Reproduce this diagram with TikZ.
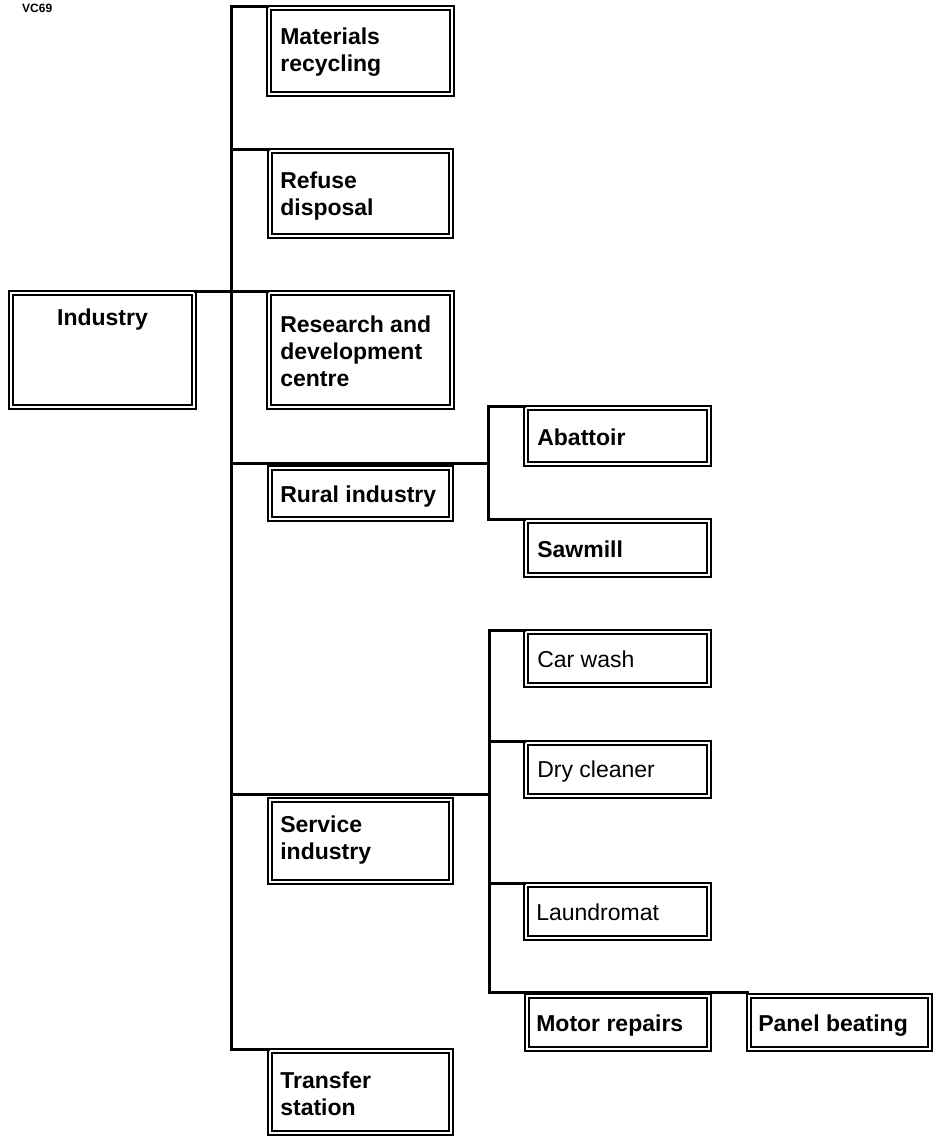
\documentclass[tikz,border=0pt]{standalone}
\usepackage{fontspec}
\setmainfont{Liberation Sans}
\usetikzlibrary{calc}
\begin{document}
\begin{tikzpicture}[x=1pt,y=-1pt,
  box/.style={draw, line width=2.2pt, double, double distance=1.8pt, rectangle, inner sep=0pt, outer sep=1.5pt, anchor=north west},
  conn/.style={line width=3.5pt, line cap=rect, line join=miter},
  lbl/.style={anchor=base west, inner sep=0pt, font=\fontsize{23}{27}\selectfont\bfseries},
  lblr/.style={anchor=base west, inner sep=0pt, font=\fontsize{23}{27}\selectfont}
]
\useasboundingbox (0,0) rectangle (935,1137);
\node[anchor=base west, inner sep=0pt, font=\fontsize{12}{14}\selectfont\bfseries] (vc) at (22,13) {VC69};

% boxes (anchor = outer edge + 1.6; border centre line = outer edge + 3.1)
\node[box, minimum width=182.8pt, minimum height=85.8pt] (mat) at (267.6,6.6) {};
\node[box, minimum width=180.8pt, minimum height=84.8pt] (ref) at (268.6,149.6) {};
\node[box, minimum width=182.8pt, minimum height=113.8pt] (ind) at (9.6,291.6) {};
\node[box, minimum width=182.8pt, minimum height=113.8pt] (res) at (267.6,291.6) {};
\node[box, minimum width=180.8pt, minimum height=50.8pt] (rur) at (268.6,466.6) {};
\node[box, minimum width=182.8pt, minimum height=55.8pt] (aba) at (524.6,406.6) {};
\node[box, minimum width=182.8pt, minimum height=53.8pt] (saw) at (524.6,519.6) {};
\node[box, minimum width=182.8pt, minimum height=52.8pt] (car) at (524.6,630.6) {};
\node[box, minimum width=182.8pt, minimum height=52.8pt] (dry) at (524.6,741.6) {};
\node[box, minimum width=180.8pt, minimum height=81.8pt] (ser) at (268.6,798.6) {};
\node[box, minimum width=182.8pt, minimum height=52.8pt] (lau) at (524.6,883.6) {};
\node[box, minimum width=181.8pt, minimum height=52.8pt] (mot) at (525.6,994.6) {};
\node[box, minimum width=180.8pt, minimum height=52.8pt] (pan) at (747.6,994.6) {};
\node[box, minimum width=180.8pt, minimum height=81.8pt] (tra) at (268.6,1049.6) {};

% labels
\node[lbl] at ($(mat.north west)+(12.5,38)$) {\parbox[t]{170pt}{Materials\\recycling}};
\node[lbl] at ($(ref.north west)+(11.5,38.5)$) {\parbox[t]{170pt}{Refuse\\disposal}};
\node[lbl, anchor=base] at ($(ind.north)+(0,33.5)$) {Industry};
\node[lbl] at ($(res.north west)+(12.5,40.5)$) {\parbox[t]{178pt}{Research and\\development\\centre}};
\node[lbl] at ($(rur.north west)+(11.5,35.5)$) {Rural industry};
\node[lbl] at ($(aba.north west)+(12.5,38.5)$) {Abattoir};
\node[lbl] at ($(saw.north west)+(12.5,37.5)$) {Sawmill};
\node[lblr] at ($(car.north west)+(12.5,36.5)$) {Car wash};
\node[lblr] at ($(dry.north west)+(12.5,35.5)$) {Dry cleaner};
\node[lbl] at ($(ser.north west)+(11.5,33.5)$) {\parbox[t]{170pt}{Service\\industry}};
\node[lblr] at ($(lau.north west)+(11.5,36.5)$) {Laundromat};
\node[lbl] at ($(mot.north west)+(10.5,36.5)$) {Motor repairs};
\node[lbl] at ($(pan.north west)+(10.5,36.5)$) {Panel beating};
\node[lbl] at ($(tra.north west)+(11.5,38.5)$) {\parbox[t]{170pt}{Transfer\\station}};

% trunk
\coordinate (trunk) at (231.3,0);
\draw[conn] (mat.north west) -- (mat.north west -| trunk) -- (tra.north west -| trunk) -- (tra.north west);
\draw[conn] (ref.north west) -- (ref.north west -| trunk);
\draw[conn] (ind.north east) -- (res.north west);

% rural subtree
\coordinate (sub1) at (488.7,0);
\coordinate (rurj) at (231.3,463.5);
\draw[conn] (rurj) -- (rurj -| sub1);
\draw[conn] (aba.north west) -- (aba.north west -| sub1) -- (saw.north west -| sub1) -- (saw.north west);

% service subtree
\coordinate (sub2) at (489.5,0);
\coordinate (serj) at (231.3,794.5);
\draw[conn] (serj) -- (serj -| sub2);
\coordinate (pbj) at (489.5,992.5);
\draw[conn] (car.north west) -- (car.north west -| sub2) -- (pbj) -- (pbj -| pan.west);
\draw[conn] (dry.north west) -- (dry.north west -| sub2);
\draw[conn] (lau.north west) -- (lau.north west -| sub2);
\end{tikzpicture}
\end{document}
